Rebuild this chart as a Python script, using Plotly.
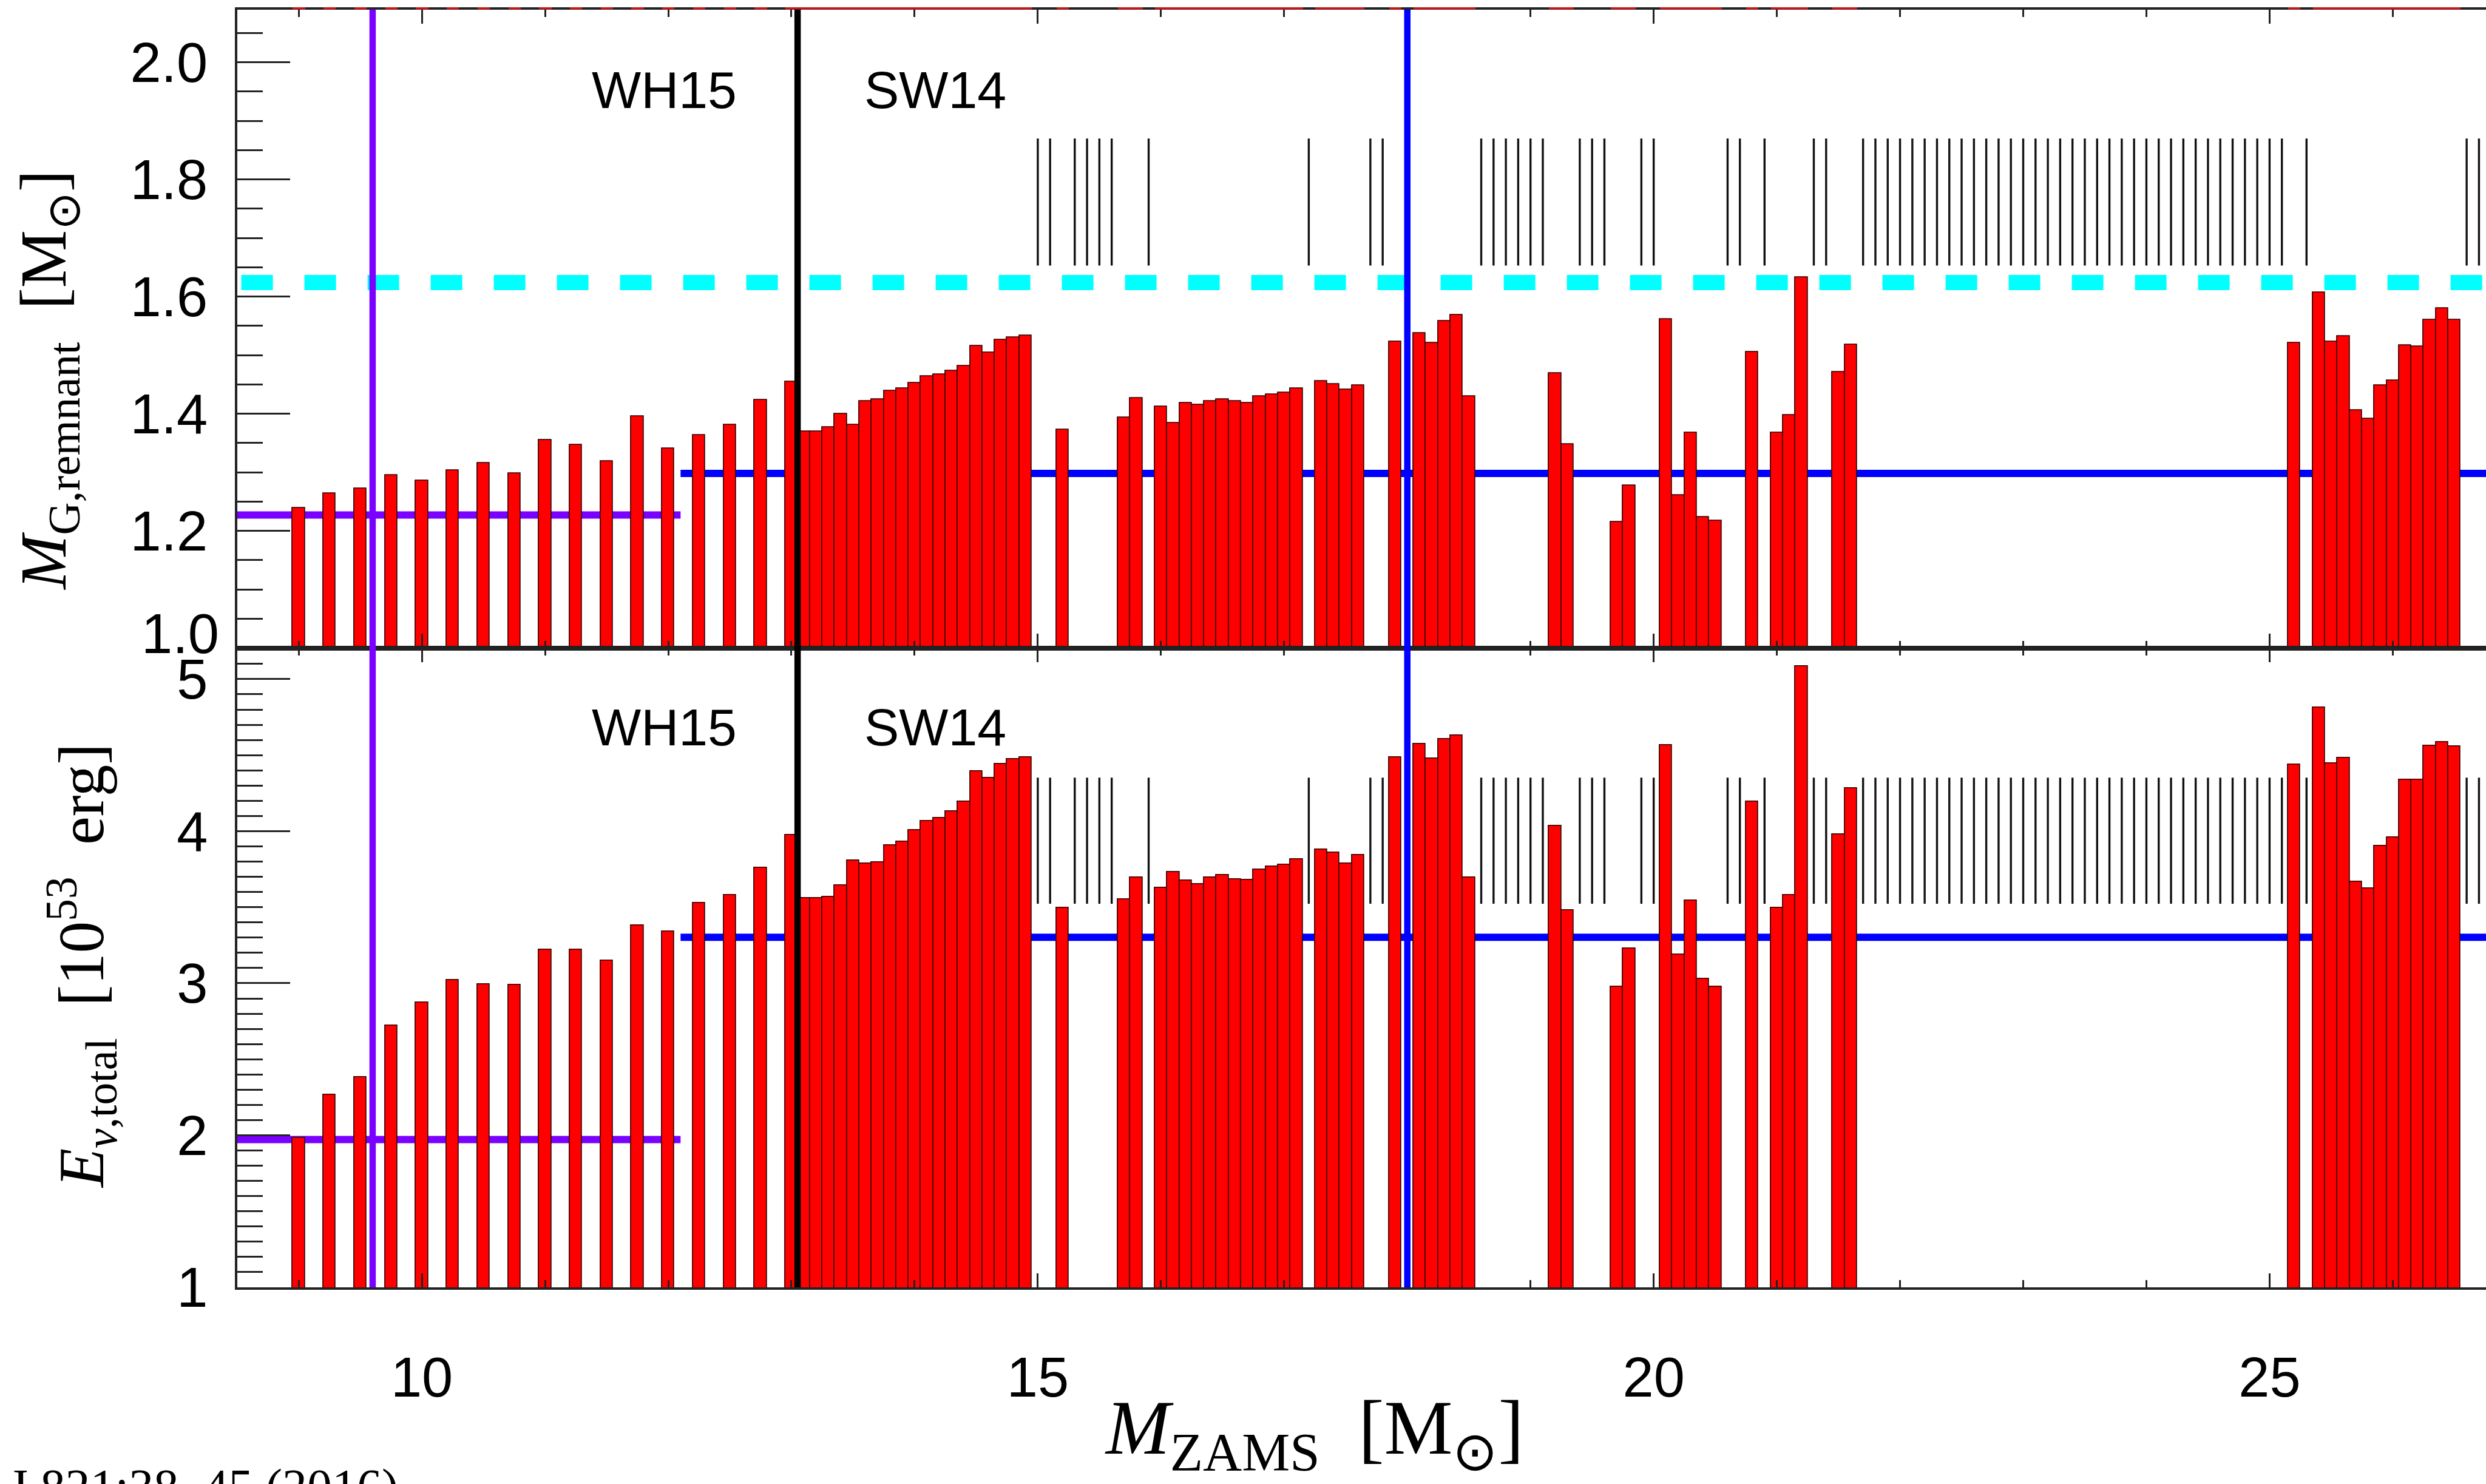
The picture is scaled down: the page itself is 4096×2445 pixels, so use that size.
import plotly.graph_objects as go

# ---------------------------------------------------------------------------
# Data: progenitor ZAMS masses [Msun] and outcomes
# ---------------------------------------------------------------------------
# WH15 exploding models
wh15_mass = [9.0, 9.25, 9.5, 9.75, 10.0, 10.25, 10.5, 10.75, 11.0, 11.25,
             11.5, 11.75, 12.0, 12.25, 12.5, 12.75, 13.0]
wh15_mgrav = [1.239, 1.264, 1.272, 1.295, 1.286, 1.303, 1.316, 1.298, 1.355,
              1.347, 1.319, 1.396, 1.341, 1.363, 1.381, 1.424, 1.455]
wh15_enu = [1.982, 2.269, 2.381, 2.722, 2.872, 3.022, 2.995, 2.988, 3.220,
            3.223, 3.148, 3.380, 3.339, 3.530, 3.581, 3.762, 3.977]

# SW14 exploding models
sw14_mass = [13.1, 13.2, 13.3, 13.4, 13.5, 13.6, 13.7, 13.8, 13.9, 14.0,
             14.1, 14.2, 14.3, 14.4, 14.5, 14.6, 14.7, 14.8, 14.9,
             15.2, 15.7, 15.8,
             16.0, 16.1, 16.2, 16.3, 16.4, 16.5, 16.6, 16.7, 16.8, 16.9, 17.0, 17.1,
             17.3, 17.4, 17.5, 17.6, 17.9,
             18.1, 18.2, 18.3, 18.4, 18.5,
             19.2, 19.3, 19.7, 19.8,
             20.1, 20.2, 20.3, 20.4, 20.5, 20.8,
             21.0, 21.1, 21.2, 21.5, 21.6,
             25.2, 25.4, 25.5, 25.6, 25.7, 25.8, 25.9, 26.0, 26.1, 26.2, 26.3, 26.4, 26.5]
sw14_mgrav = [1.370, 1.370, 1.377, 1.400, 1.381, 1.421, 1.425, 1.439, 1.443, 1.453,
              1.464, 1.467, 1.473, 1.482, 1.516, 1.504, 1.526, 1.530, 1.533,
              1.373, 1.394, 1.427,
              1.412, 1.384, 1.418, 1.415, 1.421, 1.425, 1.421, 1.418, 1.430, 1.433, 1.436, 1.443,
              1.456, 1.451, 1.441, 1.448, 1.523,
              1.538, 1.521, 1.558, 1.569, 1.430,
              1.469, 1.348, 1.215, 1.277,
              1.561, 1.261, 1.368, 1.224, 1.217, 1.505,
              1.368, 1.398, 1.633, 1.471, 1.518,
              1.521, 1.607, 1.523, 1.532, 1.406, 1.391, 1.448, 1.457, 1.517, 1.515, 1.560, 1.580, 1.560]
sw14_enu = [3.561, 3.561, 3.568, 3.646, 3.806, 3.789, 3.796, 3.909, 3.933, 4.008,
            4.069, 4.089, 4.130, 4.195, 4.393, 4.352, 4.444, 4.475, 4.485,
            3.496, 3.551, 3.697,
            3.629, 3.731, 3.677, 3.653, 3.697, 3.711, 3.684, 3.680, 3.748, 3.769, 3.779, 3.817,
            3.878, 3.861, 3.789, 3.844, 4.488,
            4.574, 4.478, 4.608, 4.632, 3.697,
            4.035, 3.479, 2.978, 3.230,
            4.567, 3.189, 3.544, 3.029, 2.978, 4.195,
            3.496, 3.581, 5.085, 3.980, 4.284,
            4.437, 4.812, 4.448, 4.482, 3.670, 3.626, 3.902, 3.960, 4.338, 4.338, 4.564, 4.587, 4.560]

# SW14 models forming black holes (marked with vertical dashes)
bh_mass = [15.0, 15.1, 15.3, 15.4, 15.5, 15.6, 15.9, 17.2, 17.7, 17.8, 18.0,
           18.6, 18.7, 18.8, 18.9, 19.0, 19.1, 19.4, 19.5, 19.6, 19.9, 20.0,
           20.6, 20.7, 20.9, 21.3, 21.4,
           21.7, 21.8, 21.9, 22.0, 22.1, 22.2, 22.3, 22.4, 22.5, 22.6, 22.7,
           22.8, 22.9, 23.0, 23.1, 23.2, 23.3, 23.4, 23.5, 23.6, 23.7, 23.8,
           23.9, 24.0, 24.1, 24.2, 24.3, 24.4, 24.5, 24.6, 24.7, 24.8, 24.9,
           25.0, 25.1, 25.3, 26.6, 26.7]

# Reference values
mg_mean_wh15 = 1.227
mg_mean_sw14 = 1.298
mg_max_ns = 1.624
enu_mean_wh15 = 1.972
enu_mean_sw14 = 3.302
wh15_sw14_split = 12.1
mass_boundary = 13.05
mass_lines = [(9.6, "#7a00ff"), (mass_boundary, "#000000"), (18.0, "#0000ff")]

# Tick labels
mg_ticks = [1.2, 1.4, 1.6, 1.8, 2.0]
mg_ticktext = ["1.2", "1.4", "1.6", "1.8", "2.0"]

# ---------------------------------------------------------------------------
# Geometry (window pixels)
# ---------------------------------------------------------------------------
W, H = 4096, 2445
X_RANGE = [8.5, 26.757]


def px(x):
    return x / W


def py(y):
    return 1 - y / H


x_dom = [px(390.7), 1.0]
top_dom = [py(1090.3), py(16.2)]
bot_dom = [py(2166.2), py(1090.3)]
sliver_dom = [py(16.2), py(12.3)]

AX_COL = "#222222"
SANS = "Liberation Sans, Arial, sans-serif"
SERIF = "Liberation Serif, Times New Roman, serif"
TICK_FONT = dict(family=SANS, size=92, color="black")

all_mass = wh15_mass + sw14_mass
all_mgrav = wh15_mgrav + sw14_mgrav
all_enu = wh15_enu + sw14_enu

fig = go.Figure()

bar_style = dict(width=0.1, marker=dict(color="#ff0000", line=dict(color="#2a0000", width=1.6)),
                 showlegend=False, hoverinfo="x+y")

# Gravitational remnant mass
fig.add_trace(go.Bar(x=all_mass, y=all_mgrav, xaxis="x", yaxis="y", **bar_style))
# Total neutrino energy
fig.add_trace(go.Bar(x=all_mass, y=all_enu, xaxis="x2", yaxis="y2", **bar_style))
# Lower edge of the neighbouring panel above
fig.add_trace(go.Bar(x=all_mass, y=all_mgrav, xaxis="x3", yaxis="y3", width=0.1,
                     marker=dict(color="#c01818", line=dict(width=0)),
                     showlegend=False, hoverinfo="skip"))


def bh_segments(lo, hi):
    xs, ys = [], []
    for m in bh_mass:
        xs += [m, m, None]
        ys += [lo, hi, None]
    return xs, ys


bx, by = bh_segments(1.653, 1.870)
fig.add_trace(go.Scatter(x=bx, y=by, mode="lines", xaxis="x", yaxis="y",
                         line=dict(color="#111111", width=3.4), showlegend=False, hoverinfo="skip"))
bx, by = bh_segments(3.523, 4.352)
fig.add_trace(go.Scatter(x=bx, y=by, mode="lines", xaxis="x2", yaxis="y2",
                         line=dict(color="#111111", width=3.4), showlegend=False, hoverinfo="skip"))

# Maximum neutron star mass (dashed)
fig.add_trace(go.Scatter(x=[8.534, X_RANGE[1]], y=[mg_max_ns, mg_max_ns], mode="lines",
                         xaxis="x", yaxis="y",
                         line=dict(color="#00ffff", width=25, dash="52px,52px"),
                         showlegend=False, hoverinfo="skip"))

shapes = []
# Mean values of each progenitor set (behind the bars)
for xr, yr, y0v, y1v in [("x", "y", mg_mean_wh15, mg_mean_sw14),
                         ("x2", "y2", enu_mean_wh15, enu_mean_sw14)]:
    shapes.append(dict(type="line", xref=xr, yref=yr, x0=X_RANGE[0], x1=wh15_sw14_split,
                       y0=y0v, y1=y0v, layer="below", line=dict(color="#7a00ff", width=12)))
    shapes.append(dict(type="line", xref=xr, yref=yr, x0=wh15_sw14_split, x1=X_RANGE[1],
                       y0=y1v, y1=y1v, layer="below", line=dict(color="#0000ff", width=12)))

# Vertical mass markers through both panels
for m, col in mass_lines:
    shapes.append(dict(type="line", xref="x2", yref="paper", x0=m, x1=m,
                       y0=bot_dom[0], y1=top_dom[1], layer="above",
                       line=dict(color=col, width=10.5)))


def xaxis(domain, anchor, labels):
    return dict(domain=domain, anchor=anchor, range=X_RANGE, showgrid=False, zeroline=False,
                showline=True, linecolor=AX_COL, linewidth=4, mirror="ticks",
                ticks="inside", ticklen=23.5, tickwidth=3, tickcolor=AX_COL,
                tick0=0, dtick=5,
                minor=dict(ticks="inside", ticklen=12, tickwidth=3, tickcolor=AX_COL,
                           tick0=0, dtick=1),
                showticklabels=labels, tickfont=TICK_FONT, ticklabelstandoff=66)


def yaxis(domain, anchor, rng, mdtick, **tick_kw):
    return dict(domain=domain, anchor=anchor, range=rng, showgrid=False, zeroline=False,
                showline=True, linecolor=AX_COL, linewidth=4, mirror=False,
                ticks="inside", ticklen=87, tickwidth=3, tickcolor=AX_COL,
                minor=dict(ticks="inside", ticklen=42, tickwidth=3, tickcolor=AX_COL,
                           tick0=0, dtick=mdtick),
                tickfont=TICK_FONT, ticklabelstandoff=26, **tick_kw)


annotations = []
# Model-set labels
for xr, yr, yv in [("x", "y", 1.953), ("x2", "y2", 4.683)]:
    for xv, label in [(11.97, "WH15"), (14.17, "SW14")]:
        annotations.append(dict(xref=xr, yref=yr, x=xv, y=yv, text=label, showarrow=False,
                                font=dict(family=SANS, size=86, color="black"),
                                xanchor="center", yanchor="middle"))

# Lowest label of the remnant-mass axis, raised clear of the panel below
annotations.append(dict(xref="paper", yref="paper", x=px(363), y=py(1066), text="1.0",
                        showarrow=False, xanchor="right", yanchor="middle",
                        font=TICK_FONT))

# Axis titles
annotations.append(dict(xref="paper", yref="paper", x=px(80), y=py(640), textangle=-90,
                        text="<i>M</i><sub>G,remnant</sub>\u2002[M<sub>\u2299</sub>]",
                        showarrow=False, xanchor="center", yanchor="middle",
                        font=dict(family=SERIF, size=107, color="black")))
annotations.append(dict(xref="paper", yref="paper", x=px(134), y=py(1626), textangle=-90,
                        text="<i>E</i><sub><i>\u03bd</i>,total</sub>\u2002[10<sup>53</sup>\u2002erg]",
                        showarrow=False, xanchor="center", yanchor="middle",
                        font=dict(family=SERIF, size=105, color="black")))
annotations.append(dict(xref="paper", yref="paper", x=px(2165), y=py(2412),
                        text="<i>M</i><sub>ZAMS</sub>\u2002[M<sub>\u2299</sub>]",
                        showarrow=False, xanchor="center", yanchor="middle",
                        font=dict(family=SERIF, size=127, color="black")))
# Journal reference
annotations.append(dict(xref="paper", yref="paper", x=px(12), y=py(2453),
                        text="J 821:38\u201345 (2016)", showarrow=False,
                        xanchor="left", yanchor="top",
                        font=dict(family=SERIF, size=82, color="black")))

fig.update_layout(
    width=W, height=H,
    margin=dict(l=0, r=0, t=0, b=0, pad=0),
    paper_bgcolor="white", plot_bgcolor="white",
    bargap=0, barmode="overlay",
    showlegend=False,
    xaxis=xaxis(x_dom, "y", False),
    yaxis=yaxis(top_dom, "x", [1.0, 2.09], 0.05,
                tickmode="array", tickvals=[1.0] + mg_ticks, ticktext=[""] + mg_ticktext),
    xaxis2=xaxis(x_dom, "y2", True),
    yaxis2=yaxis(bot_dom, "x2", [1.0, 5.205], 0.1, tick0=0, dtick=1, tickformat="d"),
    xaxis3=dict(domain=x_dom, anchor="y3", range=X_RANGE, visible=False),
    yaxis3=dict(domain=sliver_dom, anchor="x3", range=[0, 0.1], visible=False),
    shapes=shapes,
    annotations=annotations,
)

fig.write_html("out.html")
